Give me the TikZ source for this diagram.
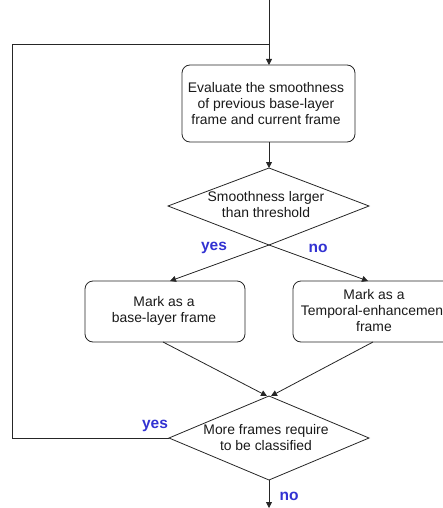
\documentclass[tikz,border=0pt]{standalone}
\usepackage{fontspec}
\setmainfont{Liberation Sans}
\usetikzlibrary{arrows.meta}
\definecolor{lblblue}{RGB}{50,50,210}
\tikzset{
  x=1pt, y=-1pt,
  line/.style={draw=black!85, line width=0.8pt},
  arr/.style={line, -{Triangle[length=6pt,width=6pt]}},
  procbox/.style={line, rounded corners=8pt},
  txt/.style={font=\fontsize{13.9}{16}\selectfont, align=center, inner sep=0pt, text=black!90},
  lbl/.style={font=\fontsize{15.5}{17}\selectfont\bfseries, text=lblblue, inner sep=0pt},
}
\begin{document}
\begin{tikzpicture}
\useasboundingbox (0,0) rectangle (443,508);
\clip (0,0) rectangle (443,508);
% coordinates
\coordinate (top) at (269,0);
\coordinate (join) at (269,44);
\coordinate (corner1) at (12,44);
\coordinate (corner2) at (12,438);
\coordinate (bot) at (269,508);
% box 1
\draw[procbox] (182,65) rectangle (355,142);
\node[txt] (eval) at (266,103.5) {Evaluate the smoothness\\of previous base-layer\\frame and current frame};
\coordinate (evalN) at (269,65);
\coordinate (evalS) at (269,142);
% diamond 1
\coordinate (d1N) at (269,168);
\coordinate (d1E) at (369,206);
\coordinate (d1S) at (269,245);
\coordinate (d1W) at (168,206);
\draw[line] (d1N) -- (d1E) -- (d1S) -- (d1W) -- cycle;
\node[txt] (smooth) at (266,205) {Smoothness larger\\than threshold};
% box 2 left
\draw[procbox] (85,281) rectangle (245,342);
\node[txt] (base) at (164,311) {Mark as a\\base-layer frame};
\coordinate (baseN) at (170,281);
\coordinate (baseS) at (163,342);
% box 2 right
\draw[procbox] (293,281) rectangle (455,342);
\node[txt] (temp) at (374,311) {Mark as a\\Temporal-enhancement\\frame};
\coordinate (tempN) at (368,281);
\coordinate (tempS) at (373,342);
% diamond 2
\coordinate (d2N) at (269,396);
\coordinate (d2E) at (369,438);
\coordinate (d2S) at (269,480);
\coordinate (d2W) at (169,438);
\draw[line] (d2N) -- (d2E) -- (d2S) -- (d2W) -- cycle;
\node[txt] (more) at (266,437.5) {More frames require\\to be classified};
% connectors
\draw[arr] (top) -- (evalN);
\draw[line] (d2W) -- (corner2) -- (corner1) -- (join);
\draw[arr] (evalS) -- (d1N);
\draw[arr] (d1S) -- (baseN);
\draw[arr] (d1S) -- (tempN);
\draw[arr] (baseS) -- (267,396);
\draw[arr] (tempS) -- (271,396);
\draw[arr] (d2S) -- (bot);
% labels
\node[lbl] (yes1) at (214,248) {yes};
\node[lbl] (no1) at (318,248) {no};
\node[lbl] (yes2) at (155,426) {yes};
\node[lbl] (no2) at (289,496) {no};
\end{tikzpicture}
\end{document}
